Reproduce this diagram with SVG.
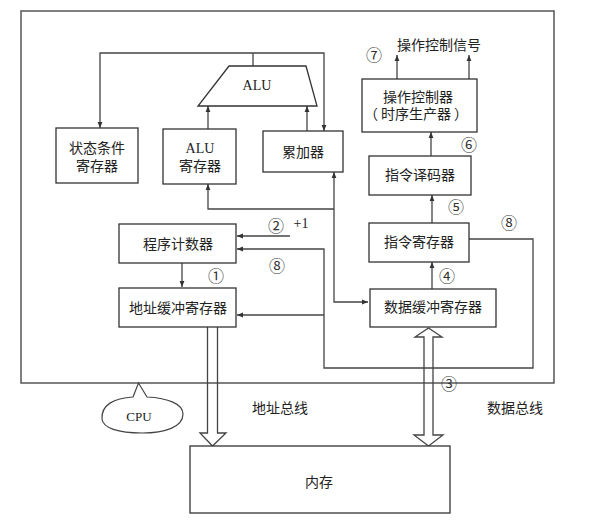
<svg xmlns="http://www.w3.org/2000/svg" width="596" height="525" viewBox="0 0 596 525">
<defs>
<marker id="ah" viewBox="0 0 10 10" refX="10" refY="5" markerWidth="6" markerHeight="6" markerUnits="userSpaceOnUse" orient="auto-start-reverse">
<path d="M0,1 L10,5 L0,9 Z" fill="#333"/>
</marker>
<style>
.box{fill:#fff;stroke:#333;stroke-width:1.3}
.ln{fill:none;stroke:#444;stroke-width:1.3}
.t{font-family:"Liberation Serif","Noto Sans CJK SC",serif;font-size:14px;fill:#222;text-anchor:middle;dominant-baseline:central}
.n{font-family:"Noto Sans CJK SC","DejaVu Sans",sans-serif;font-size:16px;fill:#333;text-anchor:middle;dominant-baseline:central}
</style>
</defs>
<rect x="0" y="0" width="596" height="525" fill="#fff"/>
<g id="cpu-frame"><rect x="21" y="11" width="533" height="372" fill="none" stroke="#555" stroke-width="1.5"/></g>

<g id="connectors">
<path class="ln" d="M253,66 V53"/>
<path class="ln" d="M100,128 V53 H324 V131" marker-start="url(#ah)" marker-end="url(#ah)"/>
<path class="ln" d="M208,129 V106" marker-end="url(#ah)"/>
<path class="ln" d="M307,131 V106" marker-end="url(#ah)"/>
<path class="ln" d="M334,172 V302 H368" marker-start="url(#ah)" marker-end="url(#ah)"/>
<path class="ln" d="M334,209 H208 V184" marker-end="url(#ah)"/>
<path class="ln" d="M290,236 H237" marker-end="url(#ah)"/>
<path class="ln" d="M469,239 H533 V368 H324 V249 H237" marker-end="url(#ah)"/>
<path class="ln" d="M324,315 H237" marker-end="url(#ah)"/>
<path class="ln" d="M182,263 V287" marker-end="url(#ah)"/>
<path class="ln" d="M432,289 V262" marker-end="url(#ah)"/>
<path class="ln" d="M432,223 V195" marker-end="url(#ah)"/>
<path class="ln" d="M431,156 V132" marker-end="url(#ah)"/>
<path class="ln" d="M397,79 V55" marker-end="url(#ah)"/>
<path class="ln" d="M469,79 V55" marker-end="url(#ah)"/>
<path id="address-bus" class="ln" d="M207.5,327 V433 H200 L212.5,446 L226,433 H217.5 V327"/>
<path id="data-bus" class="ln" d="M424,337 V435 H414 L428.5,446 L443,435 H433 V337 H442 L428.5,328 L415,337 Z"/>
</g>

<g id="alu"><path class="box" d="M229,66 H306 L317,106 H198 Z"/><text class="t" x="257" y="85">ALU</text></g>
<g id="status-reg"><rect class="box" x="56" y="128" width="82" height="55"/><text class="t" x="97" y="148">状态条件</text><text class="t" x="97" y="166">寄存器</text></g>
<g id="alu-reg"><rect class="box" x="163" y="129" width="73" height="55"/><text class="t" x="200" y="148">ALU</text><text class="t" x="200" y="166">寄存器</text></g>
<g id="accumulator"><rect class="box" x="263" y="131" width="80" height="41"/><text class="t" x="303" y="152">累加器</text></g>
<g id="op-controller"><rect class="box" x="362" y="79" width="115" height="53"/><text class="t" x="418" y="97">操作控制器</text><text class="t" y="114"><tspan x="371">（</tspan><tspan x="416">时序生产器</tspan><tspan x="461">）</tspan></text></g>
<g id="op-signal"><text class="t" x="439" y="45">操作控制信号</text><text class="n" x="374" y="54">⑦</text></g>
<g id="decoder"><rect class="box" x="369" y="156" width="102" height="39"/><text class="t" x="420" y="175">指令译码器</text></g>
<g id="ir"><rect class="box" x="369" y="223" width="100" height="39"/><text class="t" x="419" y="242">指令寄存器</text></g>
<g id="dbr"><rect class="box" x="370" y="289" width="126" height="38"/><text class="t" x="433" y="307">数据缓冲寄存器</text></g>
<g id="pc"><rect class="box" x="119" y="224" width="117" height="39"/><text class="t" x="178" y="244">程序计数器</text></g>
<g id="abr"><rect class="box" x="119" y="288" width="117" height="39"/><text class="t" x="178" y="308">地址缓冲寄存器</text></g>
<g id="memory"><rect class="box" x="190" y="446" width="260" height="67"/><text class="t" x="319" y="482">内存</text></g>

<g id="labels">
<text class="n" x="469" y="144">⑥</text>
<text class="n" x="456" y="206">⑤</text>
<text class="n" x="509" y="222">⑧</text>
<text class="n" x="447" y="275">④</text>
<text class="n" x="276" y="225">②</text>
<text class="t" x="301" y="223">+1</text>
<text class="n" x="277" y="265">⑧</text>
<text class="n" x="216" y="275">①</text>
<text class="n" x="449" y="383">③</text>
<text class="t" x="280" y="408">地址总线</text>
<text class="t" x="515" y="408">数据总线</text>
</g>

<g id="cpu-bubble">
<path fill="#fff" stroke="#444" stroke-width="1.2" d="M133,397 L138.5,383 L147,397 C168,398 183,404 183,414 C183,427 165,433 142,433 C118,433 103,428 102,419 C101,405 114,398 133,397 Z"/>
<text class="t" x="139" y="416" style="font-size:13px">CPU</text>
</g>
</svg>
